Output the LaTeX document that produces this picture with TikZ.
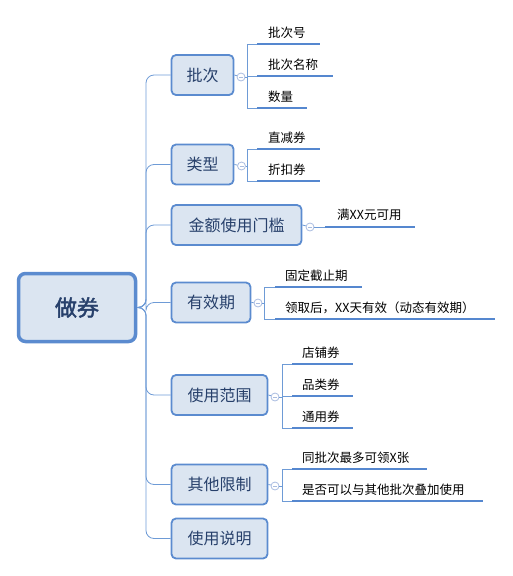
\documentclass[tikz,border=0pt]{standalone}
\usepackage{fontspec}
\setmainfont{Noto Sans CJK SC}
\newfontfamily\rootfont{Noto Sans CJK SC}[FakeBold=2]
\definecolor{bordc}{HTML}{5B8BCF}
\definecolor{fillc}{HTML}{DBE5F1}
\definecolor{txtc}{HTML}{27406B}
\definecolor{linec}{HTML}{5587CF}
\definecolor{connc}{HTML}{6E9BD6}
\definecolor{markc}{HTML}{A9BCE0}
\tikzset{
  rootbox/.style={rectangle, rounded corners=7, draw=bordc, line width=3.5, fill=fillc, text=txtc,
    font=\rootfont\fontsize{22}{24}\selectfont, minimum width=117, minimum height=68, inner sep=0},
  brbox/.style={rectangle, rounded corners=4.5, draw=bordc, line width=1.8, fill=fillc, text=txtc,
    font=\fontsize{16}{18}\selectfont, minimum height=40, inner sep=0},
  leaftext/.style={anchor=base west, inner sep=0, font=\fontsize{12.5}{14}\selectfont, text=black},
  leafline/.style={line width=2.6, draw=linec},
  conn/.style={line width=0.8, draw=connc},
  marker/.style={circle, draw=markc, fill=white, line width=0.8, minimum size=8, inner sep=0,
    path picture={\draw[markc, line width=0.8] ([xshift=-2]path picture bounding box.center) -- ([xshift=2]path picture bounding box.center);}},
}
\begin{document}
\begin{tikzpicture}[x=1pt,y=-1pt]
\useasboundingbox (0,0) rectangle (513,576);
% root
\node[rootbox] (root) at (77,307.5) {做券};
% branches
\node[brbox, minimum width=62] (b1) at (202.5,75) {批次};
\node[brbox, minimum width=62] (b2) at (202.5,164.5) {类型};
\node[brbox, minimum width=130] (b3) at (236.5,225) {金额使用门槛};
\node[brbox, minimum width=79] (b4) at (211,302.5) {有效期};
\node[brbox, minimum width=96] (b5) at (219.5,395) {使用范围};
\node[brbox, minimum width=96] (b6) at (219.5,484.5) {其他限制};
\node[brbox, minimum width=96] (b7) at (219.5,538.5) {使用说明};
\coordinate (tr) at (146,307.5);
\foreach \b in {b1,b2,b3,b4,b5,b6,b7}{
  \draw[conn, rounded corners=8] (root.east) -- (tr) |- (\b.west);
}
% markers
\node[marker] (m1) at (241,77) {};
\node[marker] (m2) at (241.5,166) {};
\node[marker] (m3) at (310,227) {};
\node[marker] (m4) at (258,303) {};
\node[marker] (m5) at (275,397) {};
\node[marker] (m6) at (275,486) {};
\draw[conn] (b1.east) -- (m1);
\draw[conn] (b2.east) -- (m2);
\draw[conn] (b3.east) -- (m3);
\draw[conn] (b4.east) -- (m4);
\draw[conn] (b5.east) -- (m5);
\draw[conn] (b6.east) -- (m6);
% group 1
\coordinate (k1) at (247,77);
\coordinate (k1t) at (247,44);
\coordinate (k1b) at (247,108);
\draw[conn] (m1) -- (k1);
\draw[conn] (k1t) -- (k1b);
\coordinate (l11a) at (257,44); \coordinate (l11b) at (320,44);
\coordinate (l12a) at (257,76); \coordinate (l12b) at (333,76);
\coordinate (l13a) at (257,108); \coordinate (l13b) at (307,108);
\draw[conn] (k1t) -- (l11a); \draw[conn] (247,76) -- (l12a); \draw[conn] (k1b) -- (l13a);
\draw[leafline] (l11a) -- (l11b);
\draw[leafline] (l12a) -- (l12b);
\draw[leafline] (l13a) -- (l13b);
\node[leaftext] (t11) at (268,37) {批次号};
\node[leaftext] (t12) at (268,69) {批次名称};
\node[leaftext] (t13) at (268,101) {数量};
% group 2
\coordinate (k2) at (247,166);
\coordinate (k2t) at (247,149);
\coordinate (k2b) at (247,181);
\draw[conn] (m2) -- (k2);
\draw[conn] (k2t) -- (k2b);
\coordinate (l21a) at (257,149); \coordinate (l21b) at (320,149);
\coordinate (l22a) at (257,181); \coordinate (l22b) at (320,181);
\draw[conn] (k2t) -- (l21a); \draw[conn] (k2b) -- (l22a);
\draw[leafline] (l21a) -- (l21b);
\draw[leafline] (l22a) -- (l22b);
\node[leaftext] (t21) at (268,142) {直减券};
\node[leaftext] (t22) at (268,174) {折扣券};
% group 3
\coordinate (l31a) at (325,227); \coordinate (l31b) at (415,227);
\draw[conn] (m3) -- (l31a);
\draw[leafline] (l31a) -- (l31b);
\node[leaftext] (t31) at (337,219) {满XX元可用};
% group 4
\coordinate (k4) at (264,303);
\coordinate (k4t) at (264,287);
\coordinate (k4b) at (264,319);
\draw[conn] (m4) -- (k4);
\draw[conn] (k4t) -- (k4b);
\coordinate (l41a) at (275,287); \coordinate (l41b) at (362,287);
\coordinate (l42a) at (275,319); \coordinate (l42b) at (495,319);
\draw[conn] (k4t) -- (l41a); \draw[conn] (k4b) -- (l42a);
\draw[leafline] (l41a) -- (l41b);
\draw[leafline] (l42a) -- (l42b);
\node[leaftext] (t41) at (285,280) {固定截止期};
\node[leaftext] (t42) at (285,312) {领取后，XX天有效（动态有效期）};
% group 5
\coordinate (k5) at (282,397);
\coordinate (k5t) at (282,364);
\coordinate (k5b) at (282,428);
\draw[conn] (m5) -- (k5);
\draw[conn] (k5t) -- (k5b);
\coordinate (l51a) at (292,364); \coordinate (l51b) at (353,364);
\coordinate (l52a) at (292,396); \coordinate (l52b) at (353,396);
\coordinate (l53a) at (292,428); \coordinate (l53b) at (353,428);
\draw[conn] (k5t) -- (l51a); \draw[conn] (282,396) -- (l52a); \draw[conn] (k5b) -- (l53a);
\draw[leafline] (l51a) -- (l51b);
\draw[leafline] (l52a) -- (l52b);
\draw[leafline] (l53a) -- (l53b);
\node[leaftext] (t51) at (302,357) {店铺券};
\node[leaftext] (t52) at (302,389) {品类券};
\node[leaftext] (t53) at (302,421) {通用券};
% group 6
\coordinate (k6) at (282,486);
\coordinate (k6t) at (282,469);
\coordinate (k6b) at (282,501);
\draw[conn] (m6) -- (k6);
\draw[conn] (k6t) -- (k6b);
\coordinate (l61a) at (292,469); \coordinate (l61b) at (427,469);
\coordinate (l62a) at (292,501); \coordinate (l62b) at (483,501);
\draw[conn] (k6t) -- (l61a); \draw[conn] (k6b) -- (l62a);
\draw[leafline] (l61a) -- (l61b);
\draw[leafline] (l62a) -- (l62b);
\node[leaftext] (t61) at (302,462) {同批次最多可领X张};
\node[leaftext] (t62) at (302,494) {是否可以与其他批次叠加使用};
\end{tikzpicture}
\end{document}
